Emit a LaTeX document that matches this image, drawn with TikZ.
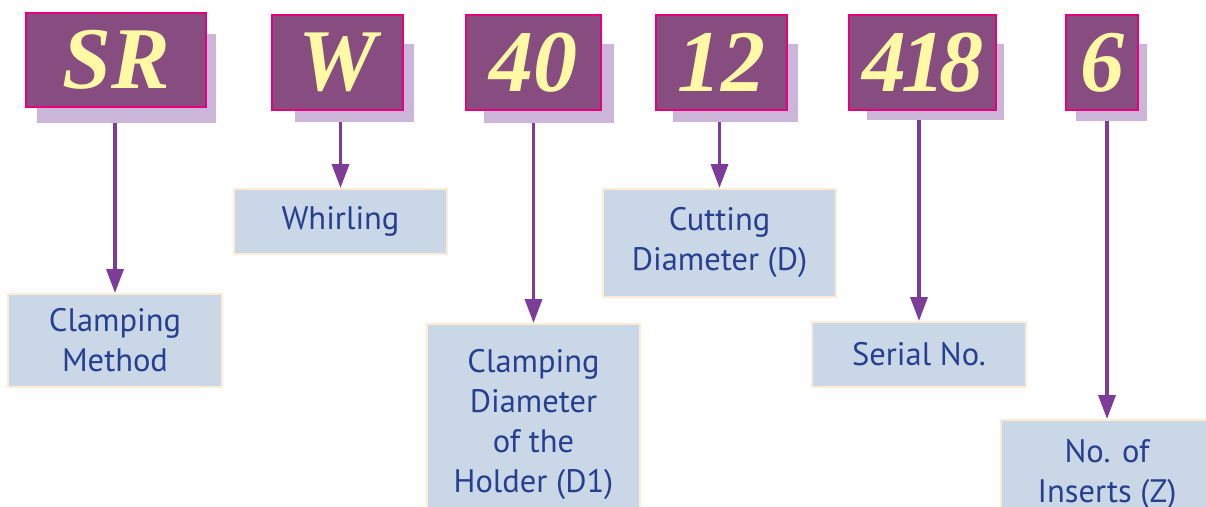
\documentclass[tikz,border=0pt]{standalone}
\usepackage{fontspec}
\setsansfont{PT Sans}
\newfontfamily\codefont{Liberation Serif}
\usetikzlibrary{arrows.meta}
\definecolor{codefill}{HTML}{874D80}
\definecolor{codeedge}{HTML}{E5007E}
\definecolor{codeback}{HTML}{CBB6D9}
\definecolor{codetext}{HTML}{FFF9A6}
\definecolor{meanfill}{HTML}{CAD7E6}
\definecolor{meanedge}{HTML}{FCEBD5}
\definecolor{meantext}{HTML}{263F8F}
\definecolor{pointcol}{HTML}{7D3C98}
\tikzset{
	codebox/.style={draw=codeedge, line width=2pt, fill=codefill, text=codetext, inner sep=0pt, font=\codefont\bfseries\itshape\fontsize{88}{88}\selectfont},
	codeshadow/.style={fill=codeback, inner sep=0pt},
	meaningbox/.style={draw=meanedge, line width=2pt, fill=meanfill, text=meantext, inner sep=0pt, align=center, font=\sffamily\fontsize{32.5}{40}\selectfont},
	pointer/.style={draw=pointcol, line width=3.5pt, -{Triangle[width=17pt,length=24pt]}}
}
\begin{document}
\begin{tikzpicture}[x=1pt,y=-1pt]
	\useasboundingbox (0,0) rectangle (1206,506);
	\node [codeshadow, minimum width=179, minimum height=89] (srs) at (126.5,78.5) {};
	\node [codeshadow, minimum width=119, minimum height=78] (ws) at (354.5,83) {};
	\node [codeshadow, minimum width=130, minimum height=79] (fzs) at (549,83.5) {};
	\node [codeshadow, minimum width=125, minimum height=78] (ots) at (735.5,83) {};
	\node [codeshadow, minimum width=137, minimum height=76] (fes) at (935.5,82) {};
	\node [codeshadow, minimum width=71, minimum height=77] (sxs) at (1111.5,82.5) {};
	\node [codebox, minimum width=180, minimum height=94] (sr) at (116,60) {SR};
	\node [codebox, minimum width=131, minimum height=95] (w) at (337.5,62.5) {W};
	\node [codebox, minimum width=135, minimum height=95] (fz) at (533.5,62.5) {40};
	\node [codebox, minimum width=131, minimum height=95] (ot) at (721.5,62.5) {12};
	\node [codebox, minimum width=147, minimum height=95] (fe) at (922.5,62.5) {4\kern-5pt1\kern-6pt8};
	\node [codebox, minimum width=72, minimum height=95] (sx) at (1102,62.5) {6};
	\node [meaningbox, minimum width=214, minimum height=93] (method) at (115,340.5) {Clamping\\Method};
	\node [meaningbox, minimum width=213, minimum height=65] (whirl) at (340.5,221.5) {Whirling};
	\node [meaningbox, minimum width=213, minimum height=200, anchor=north] (holder) at (533.5,323) {Clamping\\Diameter\\of the\\Holder (D1)};
	\node [meaningbox, minimum width=233, minimum height=108] (cut) at (719.5,243) {Cutting\\Diameter (D)};
	\node [meaningbox, minimum width=214, minimum height=65] (serial) at (919,354.5) {Serial No.};
	\node [meaningbox, minimum width=212, minimum height=110] (inserts) at (1107,475) {No. of\\Inserts (Z)};
	\draw [pointer] (srs.south -| method.north) -- (method.north);
	\draw [pointer] (ws.south -| whirl.north) -- (whirl.north);
	\draw [pointer] (fzs.south -| holder.north) -- (holder.north);
	\draw [pointer] (ots.south -| cut.north) -- (cut.north);
	\draw [pointer] (fes.south -| serial.north) -- (serial.north);
	\draw [pointer] (sxs.south -| inserts.north) -- (inserts.north);
\end{tikzpicture}
\end{document}
